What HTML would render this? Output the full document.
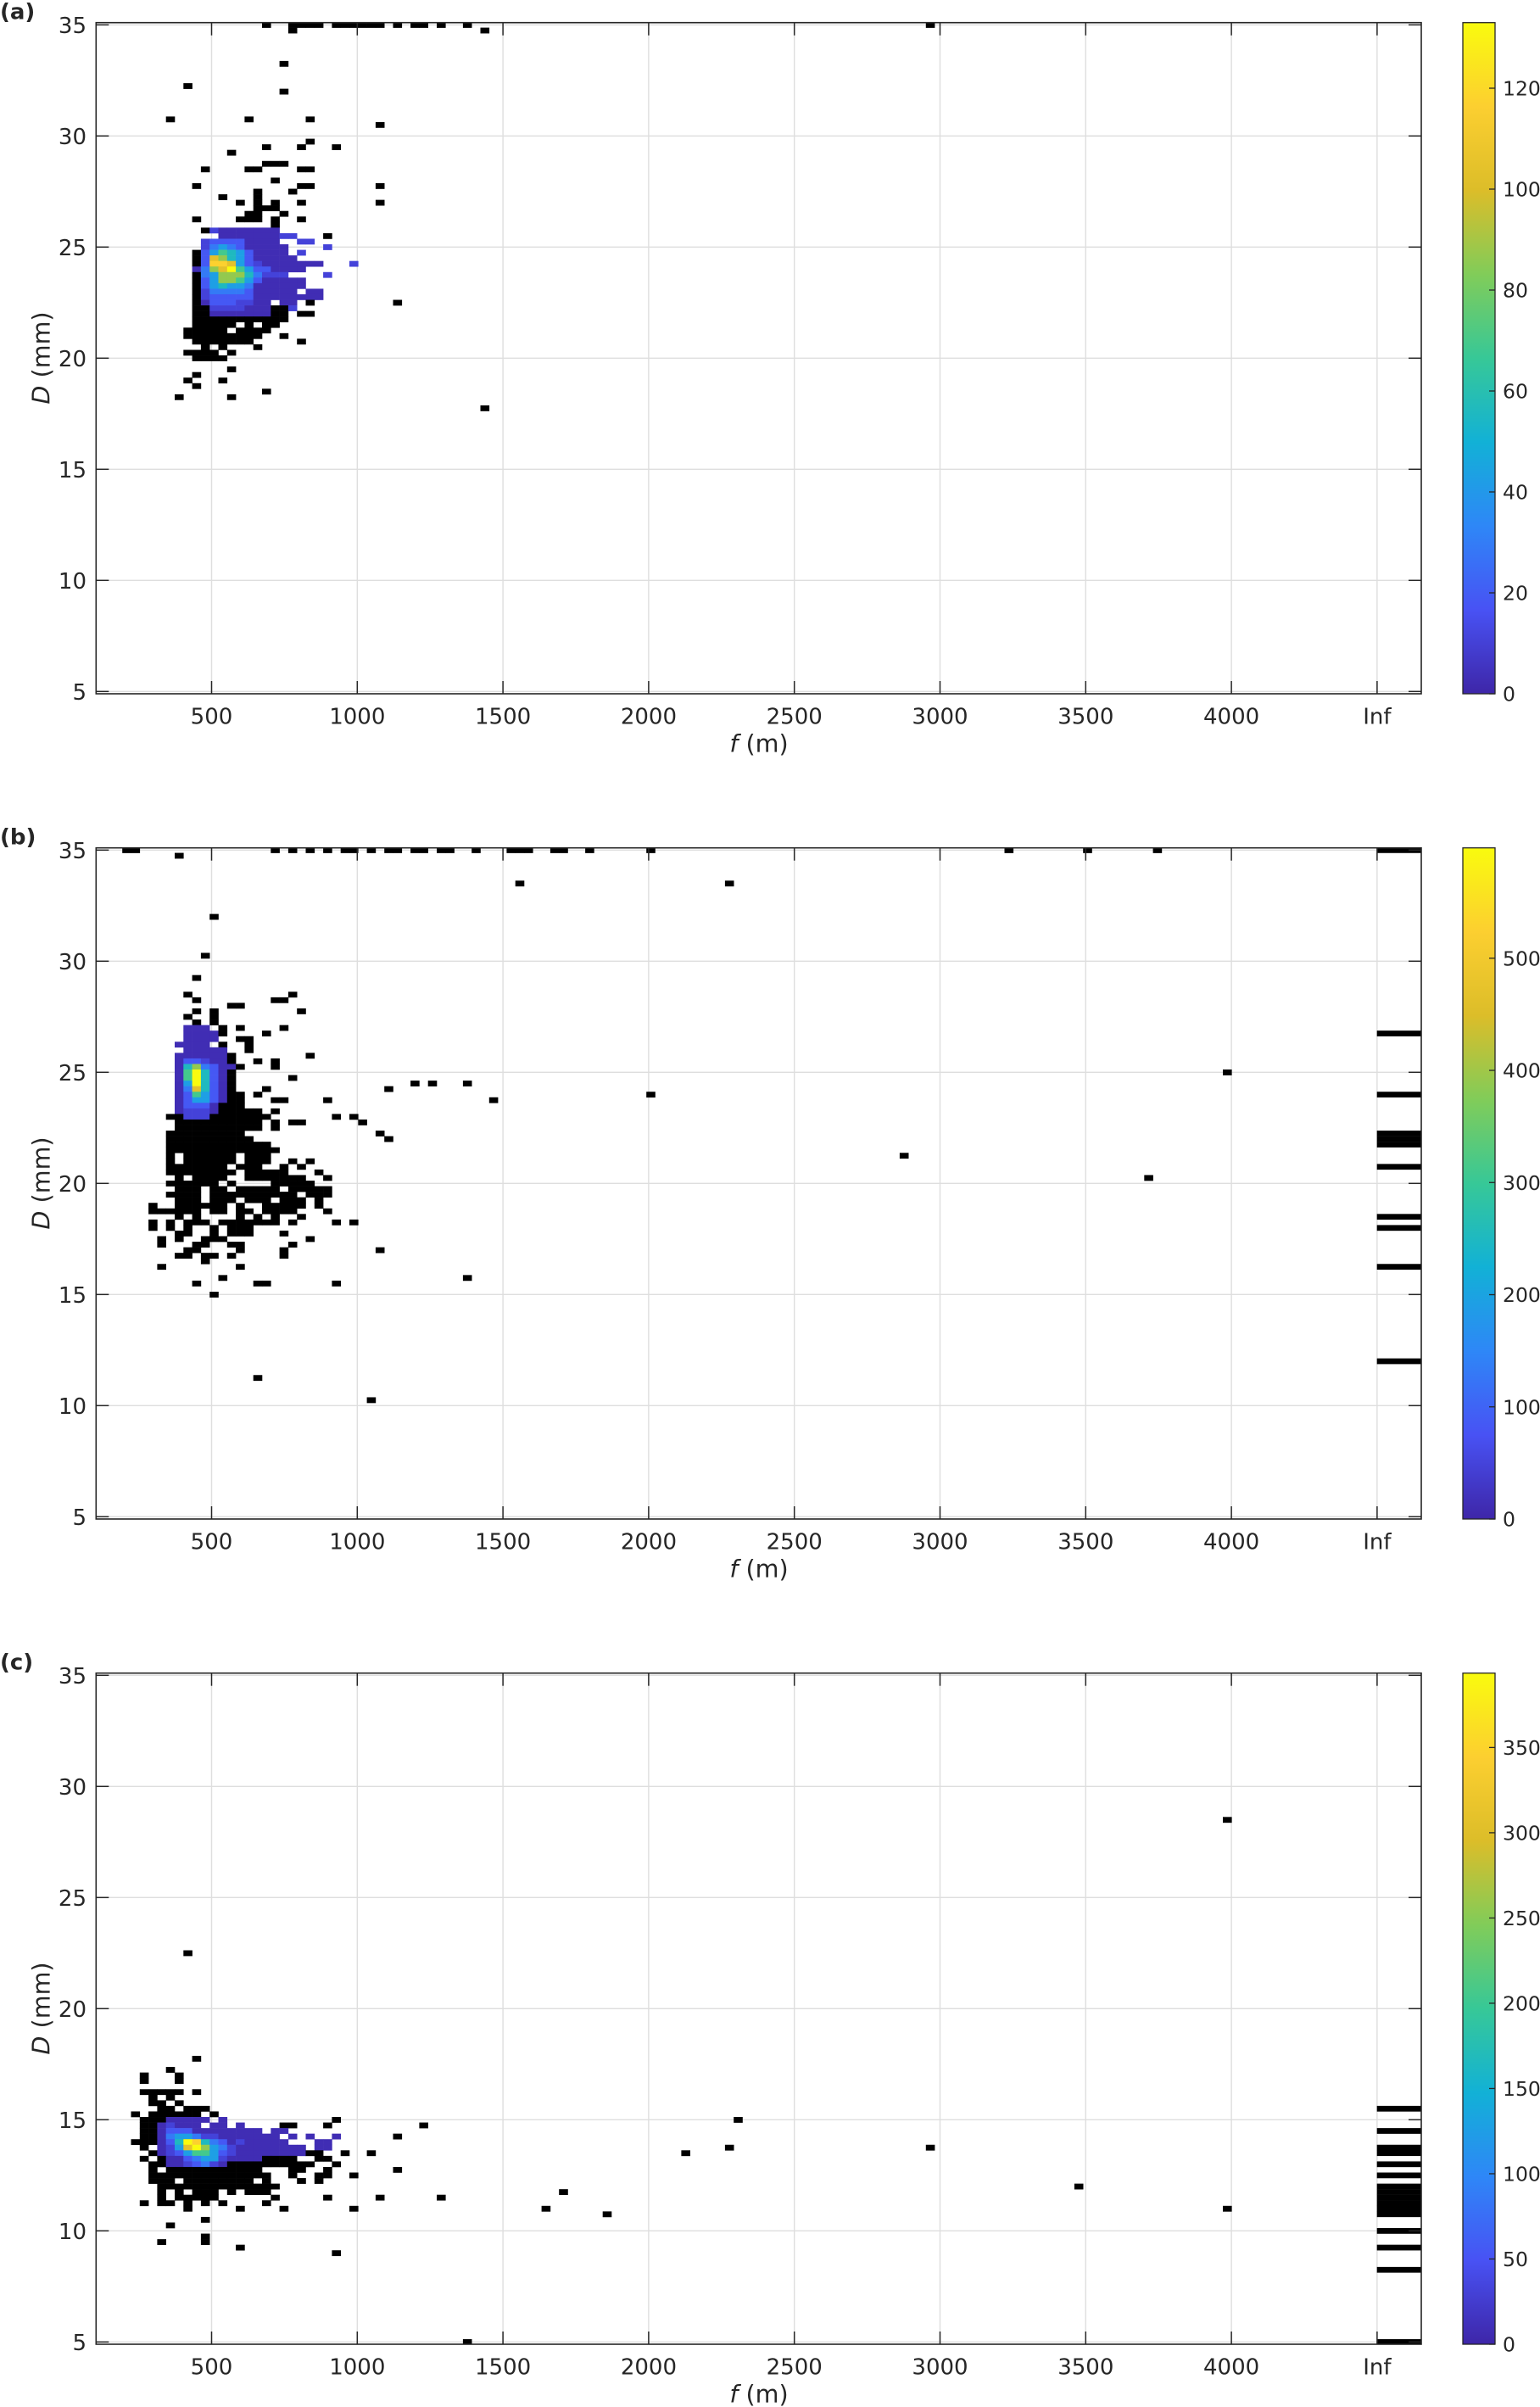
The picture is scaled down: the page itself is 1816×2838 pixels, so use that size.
<!DOCTYPE html>
<html>
<head>
<meta charset="utf-8">
<style>
html,body{margin:0;padding:0;background:#fff;}
svg{display:block;}
text{font-family:"DejaVu Sans","Liberation Sans",sans-serif;fill:#262626;}
.cb{font-size:23.5px;}
</style>
</head>
<body>
<svg id="s" xmlns="http://www.w3.org/2000/svg" width="1816" height="2838" viewBox="0 0 1816 2838">
<defs>
<linearGradient id="pg" x1="0" y1="1" x2="0" y2="0">
<stop offset="0" stop-color="#3e26a8"/>
<stop offset="0.125" stop-color="#4852f4"/>
<stop offset="0.25" stop-color="#2e87f7"/>
<stop offset="0.375" stop-color="#12b1d6"/>
<stop offset="0.5" stop-color="#37c897"/>
<stop offset="0.625" stop-color="#81cc59"/>
<stop offset="0.75" stop-color="#dcbd29"/>
<stop offset="0.875" stop-color="#fccf30"/>
<stop offset="1" stop-color="#f9fb0e"/>
</linearGradient>
</defs>
<rect x="0" y="0" width="1816" height="2838" fill="#fff"/>
<g id="grid"></g>
<g id="cells"></g>
<g id="axes"></g>

<!-- Panel (a) -->
<g font-size="26">
<text x="0" y="22.6" font-weight="bold">(a)</text>
<g text-anchor="end">
<text x="102" y="38.8">35</text><text x="102" y="169.8">30</text><text x="102" y="300.8">25</text><text x="102" y="431.8">20</text><text x="102" y="562.8">15</text><text x="102" y="693.8">10</text><text x="102" y="824.8">5</text>
</g>
<g text-anchor="middle">
<text x="249.5" y="853.3">500</text><text x="421.3" y="853.3">1000</text><text x="593.1" y="853.3">1500</text><text x="764.9" y="853.3">2000</text><text x="936.7" y="853.3">2500</text><text x="1108.5" y="853.3">3000</text><text x="1280.3" y="853.3">3500</text><text x="1452.1" y="853.3">4000</text><text x="1623.9" y="853.3">Inf</text>
</g>
<text x="895" y="886.5" text-anchor="middle" font-size="28.6"><tspan font-style="italic">f</tspan> (m)</text>
<text transform="translate(58.5,422) rotate(-90)" text-anchor="middle" font-size="28.6"><tspan font-style="italic">D</tspan> (mm)</text>
<g class="cb">
<text x="1772" y="826.6">0</text><text x="1772" y="707.6">20</text><text x="1772" y="588.6">40</text><text x="1772" y="469.6">60</text><text x="1772" y="350.6">80</text><text x="1772" y="231.6">100</text><text x="1772" y="112.6">120</text>
</g>
</g>

<!-- Panel (b) -->
<g font-size="26">
<text x="0" y="995.6" font-weight="bold">(b)</text>
<g text-anchor="end">
<text x="102" y="1011.8">35</text><text x="102" y="1142.8">30</text><text x="102" y="1273.8">25</text><text x="102" y="1404.8">20</text><text x="102" y="1535.8">15</text><text x="102" y="1666.8">10</text><text x="102" y="1797.8">5</text>
</g>
<g text-anchor="middle">
<text x="249.5" y="1826.3">500</text><text x="421.3" y="1826.3">1000</text><text x="593.1" y="1826.3">1500</text><text x="764.9" y="1826.3">2000</text><text x="936.7" y="1826.3">2500</text><text x="1108.5" y="1826.3">3000</text><text x="1280.3" y="1826.3">3500</text><text x="1452.1" y="1826.3">4000</text><text x="1623.9" y="1826.3">Inf</text>
</g>
<text x="895" y="1859.5" text-anchor="middle" font-size="28.6"><tspan font-style="italic">f</tspan> (m)</text>
<text transform="translate(58.5,1395) rotate(-90)" text-anchor="middle" font-size="28.6"><tspan font-style="italic">D</tspan> (mm)</text>
<g class="cb">
<text x="1772" y="1799.6">0</text><text x="1772" y="1667.4">100</text><text x="1772" y="1535.1">200</text><text x="1772" y="1402.9">300</text><text x="1772" y="1270.6">400</text><text x="1772" y="1138.4">500</text>
</g>
</g>

<!-- Panel (c) -->
<g font-size="26">
<text x="0" y="1968.6" font-weight="bold">(c)</text>
<g text-anchor="end">
<text x="102" y="1984.8">35</text><text x="102" y="2115.8">30</text><text x="102" y="2246.8">25</text><text x="102" y="2377.8">20</text><text x="102" y="2508.8">15</text><text x="102" y="2639.8">10</text><text x="102" y="2770.8">5</text>
</g>
<g text-anchor="middle">
<text x="249.5" y="2799.3">500</text><text x="421.3" y="2799.3">1000</text><text x="593.1" y="2799.3">1500</text><text x="764.9" y="2799.3">2000</text><text x="936.7" y="2799.3">2500</text><text x="1108.5" y="2799.3">3000</text><text x="1280.3" y="2799.3">3500</text><text x="1452.1" y="2799.3">4000</text><text x="1623.9" y="2799.3">Inf</text>
</g>
<text x="895" y="2832.5" text-anchor="middle" font-size="28.6"><tspan font-style="italic">f</tspan> (m)</text>
<text transform="translate(58.5,2368) rotate(-90)" text-anchor="middle" font-size="28.6"><tspan font-style="italic">D</tspan> (mm)</text>
<g class="cb">
<text x="1772" y="2772.6">0</text><text x="1772" y="2672.1">50</text><text x="1772" y="2571.6">100</text><text x="1772" y="2471.1">150</text><text x="1772" y="2370.6">200</text><text x="1772" y="2270.1">250</text><text x="1772" y="2169.5">300</text><text x="1772" y="2069">350</text>
</g>
</g>
</svg>

<script>
(function(){
var NS="http://www.w3.org/2000/svg";
var P=[[0,[62,38,168]],[.125,[72,82,244]],[.25,[46,135,247]],[.375,[18,177,214]],[.5,[55,200,151]],[.625,[129,204,89]],[.75,[220,189,41]],[.875,[252,207,48]],[1,[249,251,14]]];
function par(t){
  for(var i=0;i<P.length-1;i++){
    if(t<=P[i+1][0]){
      var a=P[i],b=P[i+1],u=(t-a[0])/(b[0]-a[0]);
      var c=[0,1,2].map(function(k){return Math.round(a[1][k]+(b[1][k]-a[1][k])*u);});
      return "rgb("+c.join(",")+")";
    }
  }
  return "rgb(249,251,14)";
}
var L={a:.02,b:.08,c:.14,d:.22,e:.32,f:.42,g:.52,h:.65,i:.78,j:.88,y:1};
function el(parent,tag,attrs){
  var e=document.createElementNS(NS,tag);
  for(var k in attrs)e.setAttribute(k,attrs[k]);
  parent.appendChild(e);return e;
}
var G=document.getElementById("grid"),C=document.getElementById("cells"),A=document.getElementById("axes");
var XL=113.3,XR=1676,XS=[249.5,421.3,593.1,764.9,936.7,1108.5,1280.3,1452.1,1623.9];
var YT=26.7,YB=818;
var DY=[35,30,25,20,15,10,5];
var OFF=[0,973,1946];
var CB=[{vals:[0,20,40,60,80,100,120],k:5.95},{vals:[0,100,200,300,400,500],k:1.3224},{vals:[0,50,100,150,200,250,300,350],k:2.0103}];

var DATA=[
[
[0,19,"k..kkkk.kkkkkk.k.kk.k..k"],[0,95,"k"],
[1,22,"k"],[1,44,"k"],
[7,21,"k"],[11,10,"k"],[12,21,"k"],
[17,8,"k"],[17,17,"k"],[17,24,"k"],
[18,32,"k"],[21,24,"k"],
[22,19,"k...k...k"],
[23,15,"k"],
[25,19,"kkk"],
[26,12,"k....kk....kk"],
[28,20,"k"],
[29,11,"k...........kk.......k"],
[30,18,"k...k"],
[31,14,"k...k"],
[32,16,"k.k.k..k........k"],
[33,18,"kkk"],
[34,17,"kk..k"],
[35,11,"k....kkk.k..k"],
[36,20,"k"],
[37,12,"kbaaaaaaa"],
[38,14,"aaaaaaabb...k"],
[39,12,"bccccaaaa..bb"],
[40,12,"bdedcaaaaa....b"],
[41,11,"kcegfecaaaa.b"],
[42,11,"kcihfecaaaaa"],
[43,11,"kcjjiecbaaaaaaa...b"],
[44,11,"adhiygeccaaaa"],
[45,11,"kdehhhfdbbb....b"],
[46,11,"kcehhgecaaaaa"],
[47,11,"kcefeedaaaaaa"],
[48,11,"kbddddcaaaaa.aa"],
[49,11,"kbcccccaaaaaaaa"],
[50,11,"kacccbbaa.aa.k.........k"],
[51,11,"kkbbbbaaakkb"],
[52,11,"kkaaaaaaakk.kk"],
[53,11,"kkkkkkkkkkk"],
[54,11,"kkkkk.k.kk"],
[55,10,"kkkkk.kkkk"],
[56,10,"kkkkkkkkk..k"],
[57,11,"kkkkkkk.....k"],
[58,12,"k.k...k"],
[59,10,"kkkk.k"],
[60,11,"kkkk"],
[62,15,"k"],[63,11,"k"],[64,10,"k...k"],[65,11,"k"],[66,19,"k"],[67,9,"k.....k"],[69,44,"k"]
],
[
[0,3,"kk...............k.k.k.k.kk.k.kk.kk.kk..k...kkk..kk..k......k"],
[0,104,"k"],[0,113,"k"],[0,121,"k"],
[1,9,"k"],
[6,48,"k"],[6,72,"k"],
[12,13,"k"],[19,12,"k"],[23,11,"k"],
[26,10,"k...........k"],
[27,11,"k........kk"],
[28,15,"kk"],
[29,11,"k.k.........k"],
[30,10,"k..k"],
[31,11,"k.k"],
[32,10,"aaa.k.k....k"],
[33,10,"aaaak....k"],
[34,10,"aaaa..kk"],
[35,9,"aaaa.k..k"],
[36,10,"aaaaa..k"],
[37,9,"aaaaaak........k"],
[38,9,"accbaak..k.k"],
[39,9,"afhdcaak...k"],
[40,9,"agyfcak"],
[41,9,"agyfcak......k"],
[42,9,"aeyfcak....................k.k...k"],
[43,9,"adifcak...k.............k"],
[44,9,"acgecakk.k"],
[45,9,"aceecakk...kk....k..................k"],
[46,9,"acccakkk"],
[47,9,"abbbakkkkk.k"],
[48,8,"kkbbbkkkkkkk.......k.k"],
[49,9,"kkkkkkkkkk.k.kk......k"],
[50,9,"kkkkkkkkkk.k"],
[51,8,"kkkkkkkkk...............k"],
[52,8,"kkkkkkkkkk...............k"],
[53,8,"kkkkkkkkkkkk"],
[54,8,"kkkkkkkkkkkkk"],
[55,8,"k.kkkkkk.kkk"],
[56,8,"k.kkkkkk.kkk..k.k"],
[57,8,"kkkkkkk.kkk..k.k"],
[58,8,"kkkkkkkk.kkkkk...k"],
[59,9,"k.kkkk..kkkkkkk..k"],
[60,8,"kkkkkk.k....kkkkk"],
[61,9,"kkk.kk.kkkkk.kkkkk"],
[62,8,"kkkk.kkkkkkkkkk.kkk"],
[63,9,"kkk.kkk.kkk.kkk.k"],
[64,6,"k..kkkkkk.k..kkkkk.k"],
[65,6,"kkkkkk.kk.kk.kkkk...k"],
[66,9,"k.k....k.k.k..k"],
[67,6,"k.k.kkk.kkkkkkk.k....k.k"],
[68,6,"k.k.k..k.kkk"],
[69,9,"kk..k.kkk...k"],
[70,7,"k.k..kkk.........k"],
[71,7,"k...kk..kk.....k"],
[72,10,"kk....k....k..........k"],
[73,9,"kk.kk.k.....k"],
[74,12,"k"],
[75,7,"k........k"],
[77,14,"k"],[77,42,"k"],
[78,11,"k......kk.......k"],
[80,13,"k"],
[95,18,"k"],[99,31,"k"],
[40,129,"k"],[44,63,"k"],[55,92,"k"],[59,120,"k"]
],
[
[26,129,"k"],[50,10,"k"],[69,11,"k"],[71,8,"k"],
[72,5,"k...k"],[73,5,"k...k"],
[75,5,"kkkkk.k"],
[76,6,"k.k"],
[77,6,"kk.k"],
[78,7,"kk.kkk"],
[79,4,"k.kkkkkk.k"],
[80,5,"kkkaaaaa.a"],[80,27,"k"],[80,73,"k"],
[81,5,"kkabaaa.aa.a....kk...k"],[81,37,"k"],
[82,5,"kkacccaaaaaaaa.aa"],
[83,5,"kkadeedbbaaaaaaa.a.a..a"],[83,34,"k"],
[84,4,"kkkacfyjfdcabaaaaa...aa"],
[85,5,"k.abeiyhedbaaaaaaaa.aa"],[85,72,"k"],[85,95,"k"],
[86,6,"kabceggecbaaaaaaaakk..k..k"],[86,67,"k"],
[87,5,"k.kaacdeebaaaakkkk..kk"],
[88,6,"kkaabcdbakkkkkkkkkk..k"],
[89,6,"k.kkkkkkkkkkk...kk..k.......k"],
[90,6,"kkkkkkkkkkkkkk..k..kk..k"],
[91,6,"kkk.kkkkkkkk.k...k.k"],
[92,7,"kkkkkkkkkkkkkk"],[92,112,"k"],
[93,7,"k.k.kkk.k.kkk"],[93,53,"k"],
[94,7,"k.kkkkk......k.....k.....k......k"],
[95,5,"k.kk.k.k.k....k"],
[96,10,"k.....k....k.......k"],[96,51,"k"],[96,129,"k"],
[97,58,"k"],[98,12,"k"],[99,8,"k"],[101,12,"k"],[102,7,"k....k"],[103,16,"k"],[104,27,"k"],[120,42,"k"]
]
];
var INF=[[],[0,33,44,51,52,53,57,66,68,75,92],[78,82,85,86,88,90,92,93,94,95,96,97,100,103,107,120]];

for(var p=0;p<3;p++){
  var off=OFF[p],top=YT+off,bot=YB+off;
  XS.forEach(function(x){el(G,"line",{x1:x,y1:top,x2:x,y2:bot,stroke:"#dedede","stroke-width":1.4});});
  DY.forEach(function(d){var y=29.3+(35-d)*26.2+off;el(G,"line",{x1:XL,y1:y,x2:XR,y2:y,stroke:"#dedede","stroke-width":1.4});});
  DATA[p].forEach(function(e){
    var r=e[0],c0=e[1],s=e[2];
    for(var i=0;i<s.length;i++){
      var ch=s[i];if(ch===".")continue;
      var x=XL+10.3*(c0+i);
      var y0=29.3+off+6.55*r-3.275,y1=y0+6.55;
      if(y0<top)y0=top;if(y1>bot)y1=bot;
      if(x+10.3>XR)continue;
      el(C,"rect",{x:x.toFixed(2),y:y0.toFixed(2),width:10.6,height:(y1-y0+0.3).toFixed(2),fill:ch==="k"?"#000":par(L[ch])});
    }
  });
  INF[p].forEach(function(r){
    var y0=29.3+off+6.55*r-3.275,y1=y0+6.55;
    if(y0<top)y0=top;if(y1>bot)y1=bot;
    el(C,"rect",{x:1623.7,y:y0.toFixed(2),width:(XR-1623.7).toFixed(2),height:(y1-y0+0.2).toFixed(2),fill:"#000"});
  });
  el(A,"rect",{x:XL,y:top,width:XR-XL,height:bot-top,fill:"none",stroke:"#262626","stroke-width":1.6});
  DY.forEach(function(d){var y=29.3+(35-d)*26.2+off;
    el(A,"line",{x1:XL,y1:y,x2:XL+15,y2:y,stroke:"#262626","stroke-width":1.5});
    el(A,"line",{x1:XR,y1:y,x2:XR-15,y2:y,stroke:"#262626","stroke-width":1.5});});
  XS.forEach(function(x){
    el(A,"line",{x1:x,y1:bot,x2:x,y2:bot-15,stroke:"#262626","stroke-width":1.5});
    el(A,"line",{x1:x,y1:top,x2:x,y2:top+15,stroke:"#262626","stroke-width":1.5});});
  el(A,"rect",{x:1725,y:top,width:38,height:bot-top,fill:"url(#pg)",stroke:"#262626","stroke-width":1.3});
  CB[p].vals.forEach(function(v){var y=bot-v*CB[p].k;
    el(A,"line",{x1:1763,y1:y,x2:1756,y2:y,stroke:"#262626","stroke-width":1.3});});
}
})();
</script>
</body>
</html>
